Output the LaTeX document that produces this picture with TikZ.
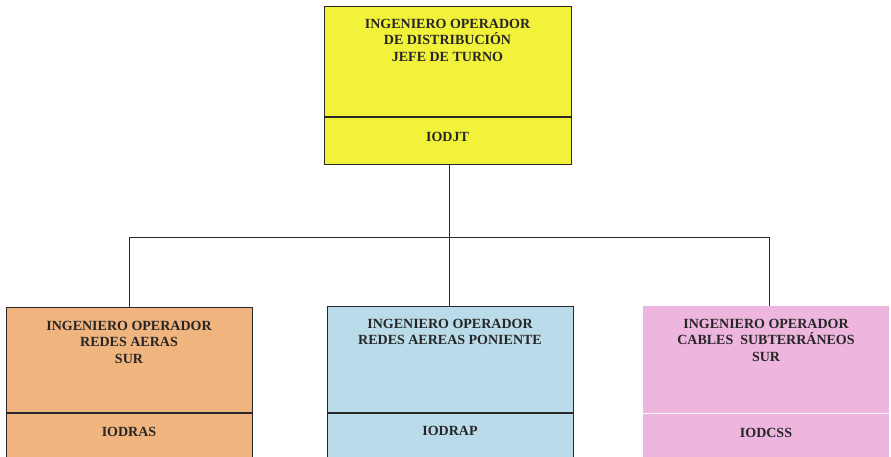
\documentclass[tikz,border=0pt]{standalone}
\usepackage{fontspec}
\setmainfont{Liberation Serif}
\definecolor{cyel}{RGB}{242,242,58}
\definecolor{corg}{RGB}{240,180,126}
\definecolor{cblu}{RGB}{186,220,234}
\definecolor{cpnk}{RGB}{238,182,222}
\definecolor{cline}{RGB}{40,40,40}
\tikzset{
  box/.style={draw=cline, line width=1.3pt, rectangle, inner sep=0pt, anchor=north west},
  txt/.style={font=\bfseries\fontsize{14}{16.6}\selectfont, align=center, inner sep=0pt, text=black!85},
  conn/.style={draw=cline, line width=0.9pt},
}
\begin{document}
\begin{tikzpicture}[x=1pt,y=-1pt]
\useasboundingbox (0,0) rectangle (891,457);
\clip (0,0) rectangle (891,457);
% boxes
\node[box, fill=cyel, minimum width=247pt, minimum height=158pt] (top) at (324,6) {};
\node[box, fill=corg, minimum width=246pt, minimum height=160pt] (left) at (6,307) {};
\node[box, fill=cblu, minimum width=246pt, minimum height=160pt] (mid) at (327,306) {};
\node[rectangle, inner sep=0pt, anchor=north west, fill=cpnk, minimum width=246pt, minimum height=160pt] (right) at (643,306) {};
% dividers
\coordinate (tdl) at (324,117); \coordinate (tdr) at (571,117);
\draw[conn, line width=1.2pt] (tdl) -- (tdr);
\coordinate (ldl) at (6,413); \coordinate (ldr) at (252,413);
\draw[conn, line width=1.2pt] (ldl) -- (ldr);
\coordinate (mdl) at (327,413); \coordinate (mdr) at (573,413);
\draw[conn, line width=1.2pt] (mdl) -- (mdr);
\coordinate (rdl) at (643,413); \coordinate (rdr) at (889,413);
\draw[white!90!cpnk, line width=1pt] (rdl) -- (rdr);
% texts
\node[txt, anchor=north] (t1) at (447.5,18.7) {INGENIERO OPERADOR\\DE DISTRIBUCIÓN\\JEFE DE TURNO};
\node[txt, anchor=base] (t2) at (447.5,142) {IODJT};
\node[txt, anchor=north] (l1) at (129,320.7) {INGENIERO OPERADOR\\REDES AERAS\\SUR};
\node[txt, anchor=base] (l2) at (129,436) {IODRAS};
\node[txt, anchor=north] (m1) at (450,318.7) {INGENIERO OPERADOR\\REDES AEREAS PONIENTE};
\node[txt, anchor=base] (m2) at (450,435) {IODRAP};
\node[txt, anchor=north] (r1) at (766,318.7) {INGENIERO OPERADOR\\CABLES\ \ SUBTERRÁNEOS\\SUR};
\node[txt, anchor=base] (r2) at (766,437) {IODCSS};
% connectors
\coordinate (bus) at (449,237);
\coordinate (busl) at (129,237);
\coordinate (busr) at (769,237);
\coordinate (topout) at (449,164);
\coordinate (lin) at (129,307);
\coordinate (min) at (449,306);
\coordinate (rin) at (769,306);
\draw[conn] (topout) -- (min);
\draw[conn] (lin) -- (busl) -- (busr) -- (rin);
\end{tikzpicture}
\end{document}
